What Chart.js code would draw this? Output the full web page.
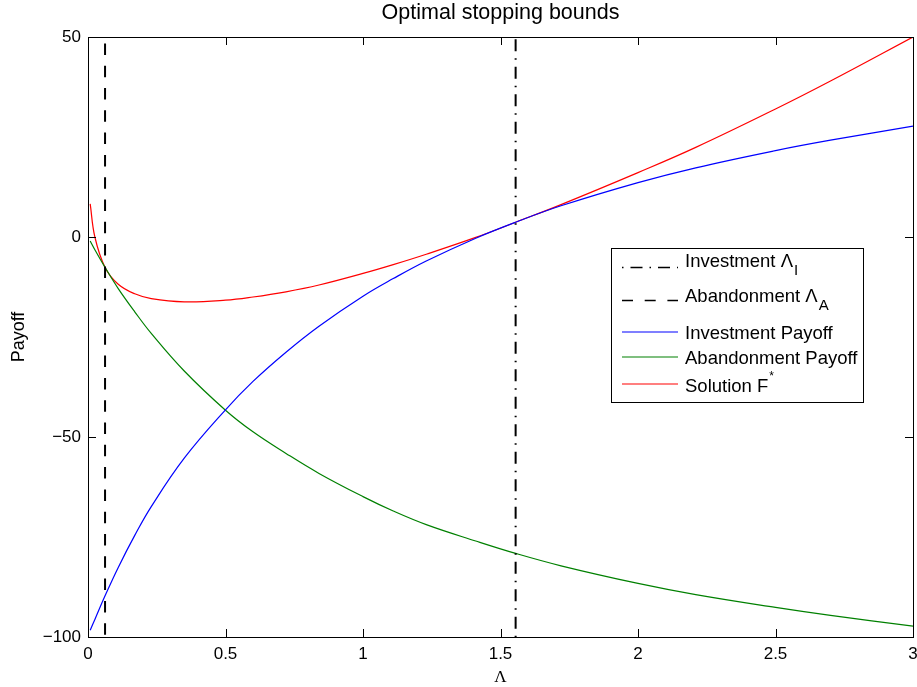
<!DOCTYPE html>
<html>
<head>
<meta charset="utf-8">
<title>Optimal stopping bounds</title>
<script src="https://cdn.jsdelivr.net/npm/chart.js@4.4.1/dist/chart.umd.min.js"></script>
<style>
  html, body { margin: 0; padding: 0; background: #fff; overflow: hidden; }
  canvas { display: block; }
</style>
</head>
<body>
<canvas id="bounds-chart" width="930" height="687"></canvas>
<script>
// Lambda grid and the three payoff curves on it
var lambda = [0.008, 0.025, 0.062, 0.11, 0.17, 0.23, 0.35, 0.5, 0.6, 0.72, 0.84, 1.0,
              1.11, 1.23, 1.41, 1.555, 1.72, 2.0, 2.21, 2.5, 2.7, 3.0];
var investmentPayoff = [-98.3, -95.6, -89.7, -82.6, -74.6, -67.4, -55.3, -43.2, -36.1, -28.8, -22.3, -14.8,
                        -10.4, -6.0, -0.3, 3.7, 7.8, 13.6, 17.3, 21.6, 24.2, 27.7];
var abandonmentPayoff = [-1.0, -3.2, -7.6, -12.9, -18.7, -24.1, -33.5, -43.3, -48.7, -54.1, -59.1, -64.9,
                         -68.5, -71.9, -76.0, -79.1, -82.2, -86.6, -89.4, -92.6, -94.6, -97.3];
var solutionF = [8.3, 0.0, -7.6, -11.8, -14.2, -15.4, -16.2, -15.8, -15.0, -13.7, -12.0, -9.1,
                 -6.9, -4.3, -0.1, 3.7, 8.1, 16.1, 22.4, 32.0, 39.0, 50.0];

// optimal investment / abandonment thresholds
var lambdaI = 1.555;
var lambdaA = 0.062;

var xTicks = [0, 0.5, 1, 1.5, 2, 2.5, 3];
var yTicks = [-100, -50, 0, 50];

function toPoints(xs, ys) {
  return xs.map(function (x, i) {
    return { x: x, y: ys[i] };
  });
}

function vertical(x) {
  return [{ x: x, y: yTicks[0] }, { x: x, y: yTicks[yTicks.length - 1] }];
}

// MATLAB style box with inward ticks on all four sides
var boxAxes = {
  id: "boxAxes",
  afterDatasetsDraw: function (chart) {
    var ctx = chart.ctx;
    var a = chart.chartArea;
    var xs = chart.scales.x;
    var ys = chart.scales.y;
    var len = 8;
    ctx.save();
    ctx.strokeStyle = "#000";
    ctx.lineWidth = 1;
    ctx.beginPath();
    xs.ticks.forEach(function (t) {
      var px = Math.round(xs.getPixelForValue(t.value)) + 0.5;
      ctx.moveTo(px, a.bottom);
      ctx.lineTo(px, a.bottom - len);
      ctx.moveTo(px, a.top);
      ctx.lineTo(px, a.top + len);
    });
    ys.ticks.forEach(function (t) {
      var py = Math.round(ys.getPixelForValue(t.value)) + 0.5;
      ctx.moveTo(a.left, py);
      ctx.lineTo(a.left + len, py);
      ctx.moveTo(a.right, py);
      ctx.lineTo(a.right - len, py);
    });
    ctx.stroke();
    ctx.strokeRect(a.left + 0.5, a.top + 0.5, a.right - a.left, a.bottom - a.top);
    ctx.restore();
  },
};

// legend box with sub/superscripts
var boundsLegend = {
  id: "boundsLegend",
  afterDatasetsDraw: function (chart) {
    var ctx = chart.ctx;
    var font = '"Liberation Sans", Arial, Helvetica, sans-serif';
    var textBase = [267, 302, 339, 364, 392];
    var lineY = [267.5, 300.5, 332, 357, 384];
    var x0 = 622, x1 = 678, tx = 685;

    ctx.save();
    ctx.fillStyle = "#fff";
    ctx.fillRect(611.5, 248.5, 252, 154);
    ctx.strokeStyle = "#000";
    ctx.lineWidth = 1;
    ctx.strokeRect(611.5, 248.5, 252, 154);

    chart.data.datasets.forEach(function (ds, i) {
      ctx.save();
      ctx.strokeStyle = ds.borderColor;
      ctx.lineWidth = ds.legendWidth || ds.borderWidth;
      ctx.setLineDash(ds.legendDash || []);
      ctx.beginPath();
      ctx.moveTo(x0, lineY[i]);
      ctx.lineTo(x1, lineY[i]);
      ctx.stroke();
      ctx.restore();

      ctx.fillStyle = "#000";
      ctx.textBaseline = "alphabetic";
      ctx.textAlign = "left";
      ctx.font = "18.5px " + font;
      ctx.fillText(ds.label, tx, textBase[i]);
      var w = ctx.measureText(ds.label).width;
      if (ds.sub) {
        ctx.font = "15px " + font;
        ctx.fillText(ds.sub, tx + w + 1, textBase[i] + 8);
      }
      if (ds.sup) {
        ctx.font = "12px " + font;
        ctx.fillText(ds.sup, tx + w + 1, textBase[i] - 12);
      }
    });
    ctx.restore();
  },
};

Chart.defaults.font.family = '"Liberation Sans", Arial, Helvetica, sans-serif';
Chart.defaults.color = "#000";

var ctx = document.getElementById("bounds-chart");

window.myChart = new Chart(ctx, {
  type: "line",
  data: {
    datasets: [
      {
        label: "Investment \u039B",
        sub: "I",
        data: vertical(lambdaI),
        borderColor: "#000",
        borderWidth: 2,
        borderDash: [12, 7, 1.5, 7],
        borderDashOffset: 19.25,
        legendWidth: 1.5,
        legendDash: [1.5, 7, 12, 7],
        pointRadius: 0,
      },
      {
        label: "Abandonment \u039B",
        sub: "A",
        data: vertical(lambdaA),
        borderColor: "#000",
        borderWidth: 2,
        borderDash: [11.5, 10.8],
        borderDashOffset: 20,
        legendWidth: 1.5,
        legendDash: [11, 11.7],
        pointRadius: 0,
      },
      {
        label: "Investment Payoff",
        data: toPoints(lambda, investmentPayoff),
        borderColor: "#0000ff",
        borderWidth: 1.2,
        tension: 0.4,
        pointRadius: 0,
      },
      {
        label: "Abandonment Payoff",
        data: toPoints(lambda, abandonmentPayoff),
        borderColor: "#008000",
        borderWidth: 1.2,
        tension: 0.4,
        pointRadius: 0,
      },
      {
        label: "Solution F",
        sup: "*",
        data: toPoints(lambda, solutionF),
        borderColor: "#ff0000",
        borderWidth: 1.2,
        tension: 0.4,
        pointRadius: 0,
      },
    ],
  },
  options: {
    responsive: false,
    animation: false,
    devicePixelRatio: 1,
    layout: {
      padding: { left: 0, right: 17, top: 0, bottom: 0 },
    },
    plugins: {
      legend: { display: false },
      tooltip: { enabled: false },
      title: {
        display: true,
        text: "Optimal stopping bounds",
        fullSize: false,
        color: "#000",
        font: { size: 21.5, weight: "normal" },
        padding: { top: 0.6, bottom: 10.6 },
      },
    },
    scales: {
      x: {
        type: "linear",
        min: xTicks[0],
        max: xTicks[xTicks.length - 1],
        afterBuildTicks: function (scale) {
          scale.ticks = xTicks.map(function (v) { return { value: v }; });
        },
        afterFit: function (scale) {
          scale.height = 50;
        },
        grid: { display: false, drawTicks: false },
        border: { display: false },
        ticks: {
          padding: 7,
          color: "#000",
          font: { size: 17 },
          maxRotation: 0,
          callback: function (v) { return String(v); },
        },
        title: {
          display: true,
          text: "\u039B",
          color: "#000",
          font: { family: '"Liberation Serif", "Times New Roman", serif', size: 17, lineHeight: 1.1 },
          padding: { top: 0, bottom: 0 },
        },
      },
      y: {
        type: "linear",
        min: yTicks[0],
        max: yTicks[yTicks.length - 1],
        afterBuildTicks: function (scale) {
          scale.ticks = yTicks.map(function (v) { return { value: v }; });
        },
        afterFit: function (scale) {
          scale.width = 88;
        },
        grid: { display: false, drawTicks: false },
        border: { display: false },
        ticks: {
          padding: 7,
          color: "#000",
          font: { size: 17 },
          callback: function (v) { return v < 0 ? "\u2212" + Math.abs(v) : String(v); },
        },
        title: {
          display: true,
          text: "Payoff",
          color: "#000",
          font: { size: 18 },
          padding: { top: 8, bottom: 0 },
        },
      },
    },
  },
  plugins: [boxAxes, boundsLegend],
});
</script>
</body>
</html>
